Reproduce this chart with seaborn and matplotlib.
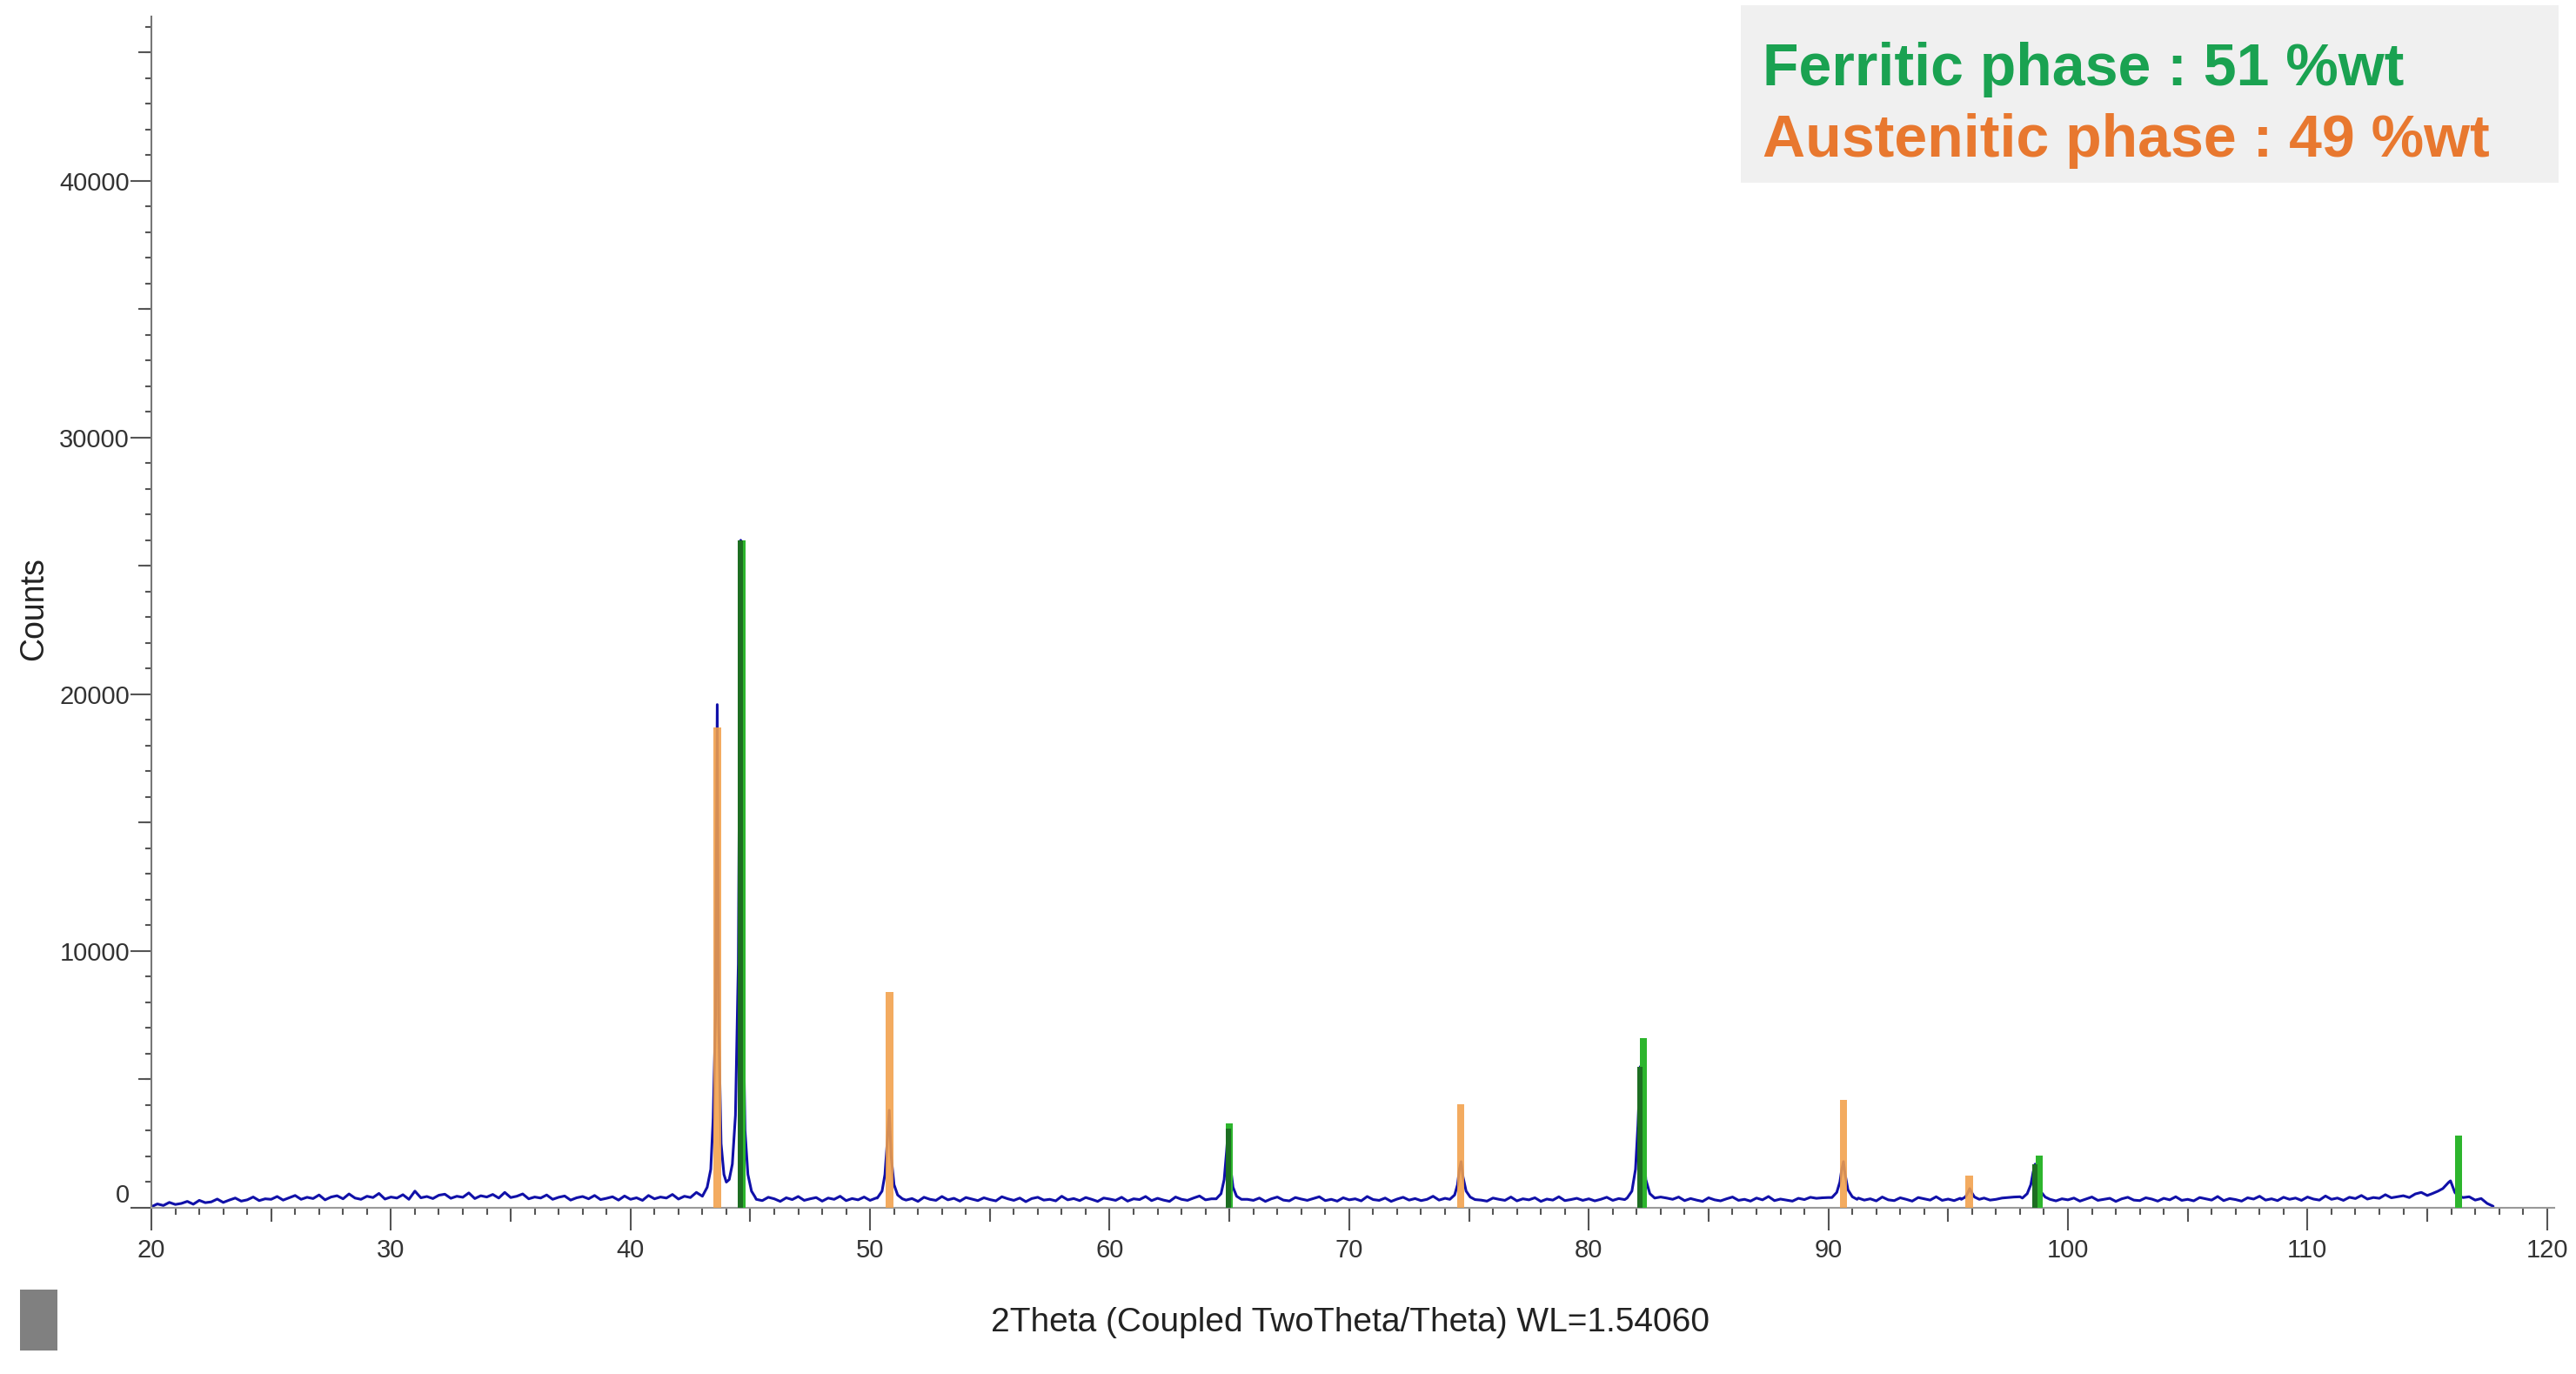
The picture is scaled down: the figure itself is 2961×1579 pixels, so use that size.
import numpy as np
import pandas as pd
import seaborn as sns
import matplotlib.pyplot as plt
from matplotlib.patches import Rectangle
from matplotlib.ticker import MultipleLocator, FixedLocator

# ---------------- data ----------------
# background of the measured pattern, 2theta = 20.00 ... 117.75 step 0.25
scan_start = 20.0
scan_step = 0.25
background_counts = [
    40, 150, 90, 210, 130, 170, 250, 140, 290, 200, 230, 340, 210, 300, 380, 260, 310, 420, 280, 350,
    330, 440, 300, 390, 480, 330, 410, 360, 500, 310, 420, 470, 350, 540, 380, 330, 450, 400, 560, 340,
    420, 380, 510, 330, 650, 390, 440, 360, 490, 530, 370, 450, 410, 580, 360, 470, 420, 520, 380, 600,
    400, 450, 540, 350, 420, 380, 500, 330, 410, 460, 300, 390, 440, 350, 480, 320, 370, 430, 300, 460,
    330, 390, 290, 480, 350, 420, 380, 520, 340, 450, 400, 600, 420, 480, 500, 520, 540, 560, 520, 480,
    400, 330, 280, 410, 350, 250, 390, 320, 440, 290, 350, 400, 260, 380, 330, 450, 280, 360, 310, 420,
    290, 380, 330, 420, 480, 400, 300, 360, 250, 410, 330, 290, 440, 310, 370, 260, 400, 340, 280, 390,
    320, 270, 430, 350, 290, 380, 240, 360, 410, 300, 330, 270, 450, 310, 360, 280, 400, 330, 250, 380,
    340, 290, 410, 260, 350, 320, 440, 280, 370, 300, 250, 420, 330, 290, 380, 460, 310, 350, 390, 420,
    430, 400, 370, 330, 290, 380, 250, 350, 420, 300, 270, 400, 340, 290, 360, 430, 280, 330, 260, 390,
    310, 350, 270, 440, 320, 290, 380, 250, 340, 410, 300, 360, 280, 330, 450, 300, 370, 320, 410, 420,
    410, 390, 300, 260, 380, 330, 290, 420, 270, 350, 310, 390, 250, 340, 300, 430, 280, 320, 370, 290,
    350, 270, 330, 410, 290, 360, 320, 400, 420, 440, 460, 440, 420, 380, 330, 420, 280, 360, 300, 250,
    390, 310, 270, 350, 420, 290, 330, 260, 380, 310, 440, 280, 340, 300, 260, 370, 320, 410, 370, 390,
    400, 420, 440, 430, 410, 380, 300, 350, 270, 420, 310, 280, 390, 330, 260, 400, 350, 300, 430, 290,
    340, 280, 370, 390, 400, 360, 380, 300, 330, 380, 400, 420, 430, 420, 400, 370, 300, 420, 270, 350,
    310, 380, 260, 340, 420, 290, 330, 370, 250, 350, 410, 300, 280, 390, 340, 260, 370, 310, 430, 290,
    330, 270, 400, 350, 300, 440, 280, 360, 320, 260, 390, 340, 450, 300, 350, 280, 410, 330, 380, 290,
    420, 340, 300, 460, 330, 380, 290, 410, 360, 480, 340, 400, 370, 510, 390, 430, 470, 400, 540, 600,
    480, 620, 700, 800, 900, 1000, 700, 430, 300, 360, 170, 60,
]

# measured peaks (2theta, counts)
peak_43_44_x = [43.0, 43.2, 43.35, 43.45, 43.55, 43.62, 43.68, 43.78, 43.9, 44.0,
                44.12, 44.25, 44.38, 44.5, 44.6, 44.68, 44.78, 44.9, 45.05, 45.2]
peak_43_44_y = [450, 800, 1500, 3500, 7500, 19600, 7200, 2500, 1300, 1000,
                1100, 1700, 3600, 9500, 26000, 9000, 3000, 1300, 650, 420]
peak_50_x = [50.3, 50.5, 50.62, 50.72, 50.8, 50.88, 51.0, 51.15, 51.35]
peak_50_y = [380, 650, 1300, 2600, 3800, 2000, 900, 500, 350]
peak_65_x = [64.45, 64.65, 64.78, 64.88, 64.95, 65.03, 65.15, 65.3, 65.5]
peak_65_y = [350, 550, 1100, 2200, 3100, 1700, 800, 450, 330]
peak_74_x = [74.2, 74.4, 74.52, 74.6, 74.67, 74.75, 74.88, 75.05, 75.25]
peak_74_y = [330, 500, 900, 1500, 1800, 1200, 650, 420, 320]
peak_82_x = [81.6, 81.8, 81.95, 82.05, 82.15, 82.25, 82.38, 82.55, 82.75]
peak_82_y = [380, 650, 1500, 3200, 5500, 2800, 1100, 550, 380]
peak_90_x = [90.15, 90.35, 90.48, 90.56, 90.63, 90.7, 90.82, 91.0, 91.2]
peak_90_y = [400, 600, 1000, 1500, 1800, 1300, 700, 430, 330]
peak_96_x = [95.55, 95.72, 95.83, 95.9, 95.98, 96.1, 96.3]
peak_96_y = [330, 420, 600, 750, 600, 420, 330]
peak_98_x = [98.1, 98.3, 98.45, 98.55, 98.63, 98.72, 98.85, 99.05, 99.25]
peak_98_y = [380, 550, 900, 1400, 1700, 1200, 650, 420, 330]
peak_116_x = [115.2, 115.45, 115.65, 115.8, 115.9, 115.97, 116.05, 116.15, 116.3, 116.5]
peak_116_y = [550, 650, 750, 900, 1000, 1050, 850, 600, 450, 400]

# reference sticks
austenite_2theta = [43.62, 50.8, 74.65, 90.63, 95.88]
austenite_counts = [18700, 8400, 4050, 4200, 1250]
ferrite_2theta = [44.66, 65.0, 82.28, 98.8, 116.3]
ferrite_counts = [26000, 3300, 6600, 2050, 2800]
ferrite_overlap_2theta = [44.6, 64.95, 82.12, 98.62]
ferrite_overlap_counts = [26000, 3100, 5500, 1700]

x_major_ticks = [20, 30, 40, 50, 60, 70, 80, 90, 100, 110, 120]
y_major_ticks = [0, 10000, 20000, 30000, 40000]

legend_lines = ["Ferritic phase : 51 %wt", "Austenitic phase : 49 %wt"]
x_title = "2Theta (Coupled TwoTheta/Theta) WL=1.54060"
y_title = "Counts"

# ---------------- build measured profile ----------------
bg_x = np.round(scan_start + scan_step * np.arange(len(background_counts)), 3)
bg_y = np.array(background_counts, dtype=float)
peaks = [(peak_43_44_x, peak_43_44_y), (peak_50_x, peak_50_y), (peak_65_x, peak_65_y),
         (peak_74_x, peak_74_y), (peak_82_x, peak_82_y), (peak_90_x, peak_90_y),
         (peak_96_x, peak_96_y), (peak_98_x, peak_98_y), (peak_116_x, peak_116_y)]
keep = np.ones(len(bg_x), dtype=bool)
for px, py in peaks:
    keep &= ~((bg_x >= min(px)) & (bg_x <= max(px)))
xs = list(bg_x[keep])
ys = list(bg_y[keep])
for px, py in peaks:
    xs += list(px)
    ys += list(py)
profile = pd.DataFrame({"two_theta": xs, "counts": ys}).sort_values("two_theta")

# ---------------- figure ----------------
sns.set_theme(style="white")
plt.rcParams['font.family'] = ['Liberation Sans', 'DejaVu Sans']

W, H = 2961, 1579
fig = plt.figure(figsize=(W / 100, H / 100), dpi=100)
ax = fig.add_axes([174 / W, 1 - 1388 / H, (2936 - 174) / W, (1388 - 19) / H])

sns.lineplot(data=profile, x="two_theta", y="counts", ax=ax, color="#1010a8",
             linewidth=2.2, estimator=None, sort=True, zorder=2)

ax.bar(austenite_2theta, austenite_counts, width=0.32, color="#F2A04A", alpha=0.88,
       linewidth=0, zorder=3)
ax.bar(ferrite_2theta, ferrite_counts, width=0.3, color="#2DB52D", linewidth=0, zorder=3)
ax.bar(ferrite_overlap_2theta, ferrite_overlap_counts, width=0.22, color="#1D6E22",
       linewidth=0, zorder=4)

ax.set_xlim(20, 120.3)
ax.set_ylim(0, 46400)

ax.xaxis.set_major_locator(FixedLocator(x_major_ticks))
ax.xaxis.set_minor_locator(MultipleLocator(1))
ax.yaxis.set_major_locator(FixedLocator(y_major_ticks))
ax.yaxis.set_minor_locator(MultipleLocator(1000))

ax.tick_params(axis='x', which='major', direction='out', length=19, width=1.5,
               color='#555555', labelsize=21, labelcolor='#333333', pad=6, bottom=True)
ax.tick_params(axis='x', which='minor', direction='out', length=6, width=1.5,
               color='#555555', bottom=True)
ax.tick_params(axis='y', which='major', direction='out', length=17, width=1.5,
               color='#555555', labelsize=21, labelcolor='#333333', pad=1, left=True)
ax.tick_params(axis='y', which='minor', direction='out', length=5, width=1.5,
               color='#555555', left=True)

# intermediate (half-decade) ticks
sx = ax.secondary_xaxis('bottom')
sx.set_xticks([25, 35, 45, 55, 65, 75, 85, 95, 105, 115])
sx.set_xticklabels([])
sx.tick_params(length=11.5, width=1.5, color='#555555')
sx.spines['bottom'].set_visible(False)
sy = ax.secondary_yaxis('left')
sy.set_yticks([5000, 15000, 25000, 35000, 45000])
sy.set_yticklabels([])
sy.tick_params(length=11, width=1.5, color='#555555')
sy.spines['left'].set_visible(False)

for s in ['top', 'right']:
    ax.spines[s].set_visible(False)
ax.spines['left'].set_color('#777777')
ax.spines['left'].set_linewidth(1.5)
ax.spines['bottom'].set_color('#999999')
ax.spines['bottom'].set_linewidth(1.5)
ax.grid(False)

ax.set_xlabel(x_title, fontsize=28, color='#222222')
ax.xaxis.set_label_coords(0.499, -0.083)
ax.set_ylabel(y_title, fontsize=27, color='#222222')
ax.yaxis.set_label_coords(-0.0424, 0.503)

# legend-like panel
fig.patches.append(Rectangle((2001 / W, 1 - 210 / H), 940 / W, 204 / H,
                             transform=fig.transFigure, facecolor='#f0f0f0',
                             edgecolor='none', zorder=0))
fig.text(2026 / W, 1 - 98 / H, legend_lines[0], color='#1AA251', fontsize=49,
         fontweight='bold', ha='left', va='baseline')
fig.text(2026 / W, 1 - 180 / H, legend_lines[1], color='#E8782F', fontsize=49,
         fontweight='bold', ha='left', va='baseline')

# grey tab at bottom-left
fig.patches.append(Rectangle((23 / W, 1 - 1552 / H), 43 / W, 70 / H,
                             transform=fig.transFigure, facecolor='#808080',
                             edgecolor='none'))

fig.canvas.draw()
ax.yaxis.get_major_ticks()[0].label1.set_verticalalignment('bottom')

fig.savefig("out.png", dpi=100)
